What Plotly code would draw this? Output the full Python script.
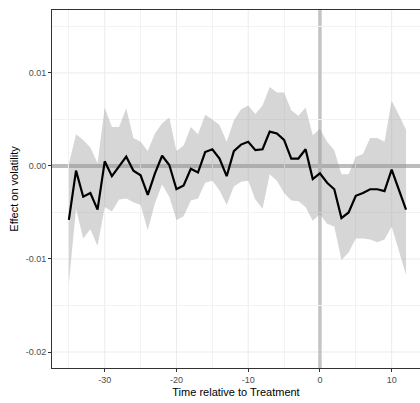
import plotly.graph_objects as go

time = list(range(-35, 13))
estimate = [-0.0058, -0.0005, -0.0033, -0.0029, -0.0047, 0.0005, -0.0011, -0.0001, 0.0010, -0.0005,
            -0.0010, -0.0031, -0.0008, 0.0011, 0.0001, -0.0025, -0.0021, -0.0003, -0.0007, 0.0015,
            0.0018, 0.0008, -0.0011, 0.0016, 0.0023, 0.0026, 0.0017, 0.0018, 0.0037, 0.0035,
            0.0028, 0.0008, 0.0008, 0.0018, -0.0014, -0.0008, -0.0018, -0.0025, -0.0056, -0.0050,
            -0.0032, -0.0029, -0.0025, -0.0025, -0.0027, -0.0004, -0.0025, -0.0047]
upper = [0.0002, 0.0034, 0.0028, 0.0020, 0.0003, 0.0063, 0.0042, 0.0042, 0.0062, 0.0030,
         0.0026, 0.0016, 0.0035, 0.0046, 0.0052, 0.0016, 0.0022, 0.0042, 0.0034, 0.0055,
         0.0050, 0.0044, 0.0026, 0.0049, 0.0061, 0.0065, 0.0056, 0.0065, 0.0085, 0.0079,
         0.0079, 0.0060, 0.0054, 0.0063, 0.0033, 0.0040, 0.0026, 0.0017, -0.0009, -0.0009,
         0.0010, 0.0013, 0.0030, 0.0030, 0.0026, 0.0070, 0.0055, 0.0039]
lower = [-0.0126, -0.0046, -0.0078, -0.0068, -0.0086, -0.0044, -0.0049, -0.0036, -0.0035, -0.0039,
         -0.0042, -0.0069, -0.0040, -0.0020, -0.0033, -0.0058, -0.0054, -0.0037, -0.0035, -0.0018,
         -0.0016, -0.0026, -0.0042, -0.0022, -0.0017, -0.0016, -0.0036, -0.0046, -0.0009, -0.0016,
         -0.0029, -0.0037, -0.0038, -0.0044, -0.0059, -0.0052, -0.0062, -0.0065, -0.0101, -0.0093,
         -0.0078, -0.0078, -0.0079, -0.0082, -0.0079, -0.0065, -0.0090, -0.0117]

x_ticks = [-30, -20, -10, 0, 10]
y_ticks = [-0.02, -0.01, 0.00, 0.01]
y_labels = ["-0.02", "-0.01", "0.00", "0.01"]

fig = go.Figure()
fig.add_trace(go.Scatter(x=time + time[::-1], y=upper + lower[::-1], fill="toself",
                         fillcolor="rgba(153,153,153,0.4)", line=dict(width=0),
                         mode="lines", hoverinfo="skip", showlegend=False))
fig.add_trace(go.Scatter(x=time, y=estimate, mode="lines",
                         line=dict(color="black", width=2.2), showlegend=False))

# major grid lines as shapes (so the reference lines can sit on top of them)
for xv in x_ticks:
    fig.add_vline(x=xv, line=dict(color="#ebebeb", width=1), layer="below")
for yv in y_ticks:
    fig.add_hline(y=yv, line=dict(color="#ebebeb", width=1), layer="below")

fig.add_hline(y=0, line=dict(color="#bdbdbd", width=4), layer="below")
fig.add_vline(x=0, line=dict(color="#c4c4c4", width=3.5), layer="below")

fig.update_layout(
    width=420, height=403,
    margin=dict(l=52, r=0, t=10, b=35),
    paper_bgcolor="white", plot_bgcolor="white",
    font=dict(family="Liberation Sans, Arial, sans-serif"),
    xaxis=dict(
        range=[-37.35, 13.95], tickvals=x_ticks, ticktext=[str(v) for v in x_ticks],
        showgrid=False,
        minor=dict(tickvals=[-35, -25, -15, -5, 5], showgrid=True, gridcolor="#f2f2f2", gridwidth=0.6),
        ticks="outside", ticklen=3, tickcolor="#333333",
        tickfont=dict(size=9, color="#4d4d4d"),
        showline=True, linecolor="#333333", linewidth=1, mirror=True,
        zeroline=False,
        title=dict(text="Time relative to Treatment", font=dict(size=11, color="black"), standoff=4),
    ),
    yaxis=dict(
        range=[-0.02172, 0.01677], tickvals=y_ticks, ticktext=y_labels,
        showgrid=False,
        minor=dict(tickvals=[-0.015, -0.005, 0.005, 0.015], showgrid=True, gridcolor="#f2f2f2", gridwidth=0.6),
        ticks="outside", ticklen=3, tickcolor="#333333",
        tickfont=dict(size=9, color="#4d4d4d"),
        showline=True, linecolor="#333333", linewidth=1, mirror=False,
        zeroline=False,
        title=dict(text="Effect on volatility", font=dict(size=11, color="black"), standoff=4),
    ),
)

fig.write_html("out.html")
